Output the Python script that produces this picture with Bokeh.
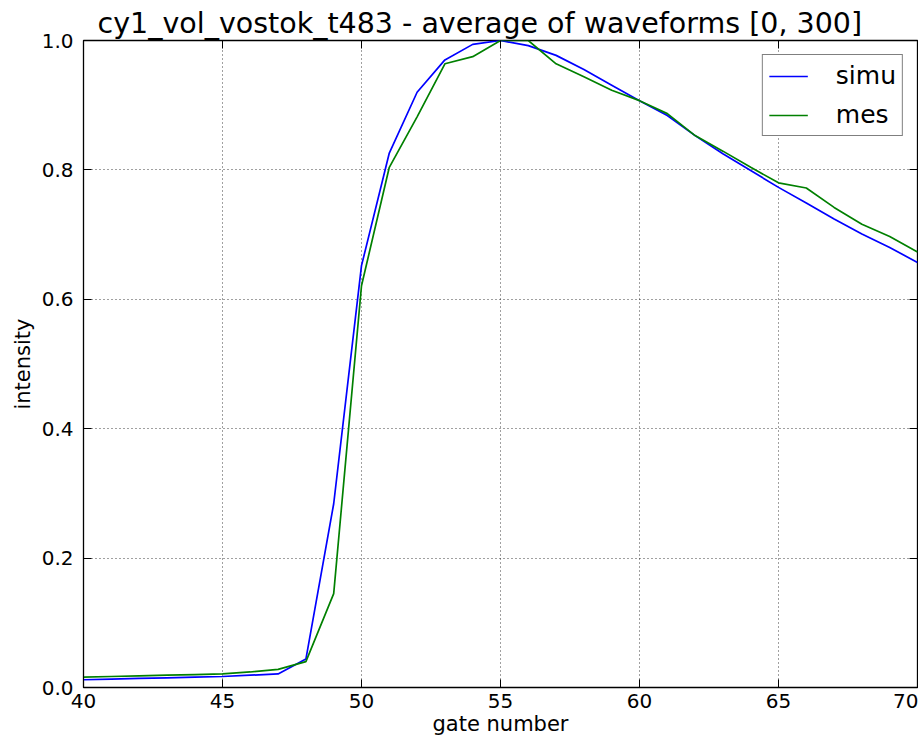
from bokeh.plotting import figure
from bokeh.models import (Range1d, FixedTicker, LinearAxis, Legend, LegendItem,
                          PrintfTickFormatter, ColumnDataSource)
from bokeh.embed import file_html
from bokeh.resources import INLINE

# ---- data ----
gates = list(range(40, 71))
simu = [0.012, 0.013, 0.014, 0.015, 0.016, 0.017, 0.019, 0.021, 0.044, 0.284,
        0.652, 0.826, 0.920, 0.970, 0.994, 1.000, 0.992, 0.977, 0.955, 0.931,
        0.907, 0.884, 0.853, 0.825, 0.799, 0.773, 0.749, 0.724, 0.701, 0.680,
        0.657]
mes = [0.016, 0.017, 0.018, 0.019, 0.020, 0.021, 0.024, 0.028, 0.040, 0.145,
       0.621, 0.804, 0.882, 0.964, 0.975, 1.000, 1.000, 0.964, 0.944, 0.923,
       0.907, 0.887, 0.853, 0.829, 0.804, 0.780, 0.772, 0.742, 0.716, 0.697,
       0.673]
x_ticks = [40, 45, 50, 55, 60, 65, 70]
y_ticks = [0.0, 0.2, 0.4, 0.6, 0.8, 1.0]
title_text = "cy1_vol_vostok_t483 - average of waveforms [0, 300]"
x_label = "gate number"
y_label = "intensity"
series_names = ["simu", "mes"]

FONT = "DejaVu Sans"

src = ColumnDataSource(dict(gate=gates, simu=simu, mes=mes))

p = figure(width=918, height=738, output_backend="svg", toolbar_location=None,
           x_range=Range1d(40, 70), y_range=Range1d(0, 1),
           min_border_left=83, min_border_right=1, min_border_top=40,
           min_border_bottom=51, title=title_text)

p.title.align = "left"
p.title.offset = 14
p.title.text_font = FONT
p.title.text_font_size = "28.5px"
p.title.text_font_style = "normal"
p.title.text_color = "#000000"
p.title.standoff = 1

r1 = p.line("gate", "simu", source=src, line_color="#0000ff", line_width=1.7)
r2 = p.line("gate", "mes", source=src, line_color="#008000", line_width=1.7)

p.outline_line_color = "#000000"
p.outline_line_width = 1.3
p.background_fill_color = "white"
p.border_fill_color = "white"

# main axes
for ax in (p.xaxis[0], p.yaxis[0]):
    ax.major_tick_in = 8
    ax.major_tick_out = 0
    ax.minor_tick_line_color = None
    ax.axis_line_color = "#000000"
    ax.major_tick_line_color = "#000000"
    ax.major_label_text_font = FONT
    ax.major_label_text_font_size = "20px"
    ax.major_label_text_color = "#000000"
    ax.axis_label_text_font = FONT
    ax.axis_label_text_font_size = "21px"
    ax.axis_label_text_font_style = "normal"
    ax.axis_label_text_color = "#000000"

p.xaxis[0].ticker = FixedTicker(ticks=x_ticks)
p.yaxis[0].ticker = FixedTicker(ticks=y_ticks)
p.yaxis[0].formatter = PrintfTickFormatter(format="%.1f")
p.xaxis[0].axis_label = x_label
p.yaxis[0].axis_label = y_label
p.xaxis[0].major_label_standoff = 6
p.xaxis[0].axis_label_standoff = 1
p.yaxis[0].major_label_standoff = 10
p.yaxis[0].axis_label_standoff = 4

# top/right tick-only axes (no labels)
top = LinearAxis(ticker=FixedTicker(ticks=x_ticks), major_tick_in=8, major_tick_out=0,
                 minor_tick_line_color=None, axis_line_color=None,
                 major_label_overrides={t: "" for t in x_ticks},
                 major_label_text_font_size="1px", major_label_standoff=0)
right = LinearAxis(ticker=FixedTicker(ticks=y_ticks), major_tick_in=8, major_tick_out=0,
                   minor_tick_line_color=None, axis_line_color=None,
                   major_label_overrides={t: "" for t in y_ticks},
                   major_label_text_font_size="1px", major_label_standoff=0)
p.add_layout(top, "above")
p.add_layout(right, "right")

# grid
p.xgrid.ticker = FixedTicker(ticks=x_ticks)
p.ygrid.ticker = FixedTicker(ticks=y_ticks)
for g in (p.xgrid[0], p.ygrid[0]):
    g.grid_line_color = "#000000"
    g.grid_line_dash = "1 3"
    g.grid_line_width = 1
    g.grid_line_alpha = 0.75

legend = Legend(items=[LegendItem(label=series_names[0], renderers=[r1]),
                       LegendItem(label=series_names[1], renderers=[r2])],
                location="top_right")
legend.label_text_font = FONT
legend.label_text_font_size = "25px"
legend.label_text_color = "#000000"
legend.border_line_color = "#000000"
legend.border_line_width = 1.3
legend.glyph_width = 39
legend.label_standoff = 28
legend.padding = 6
legend.spacing = 10
legend.margin = 14
legend.background_fill_alpha = 1
p.add_layout(legend)

open("out.html", "w").write(file_html(p, INLINE))
